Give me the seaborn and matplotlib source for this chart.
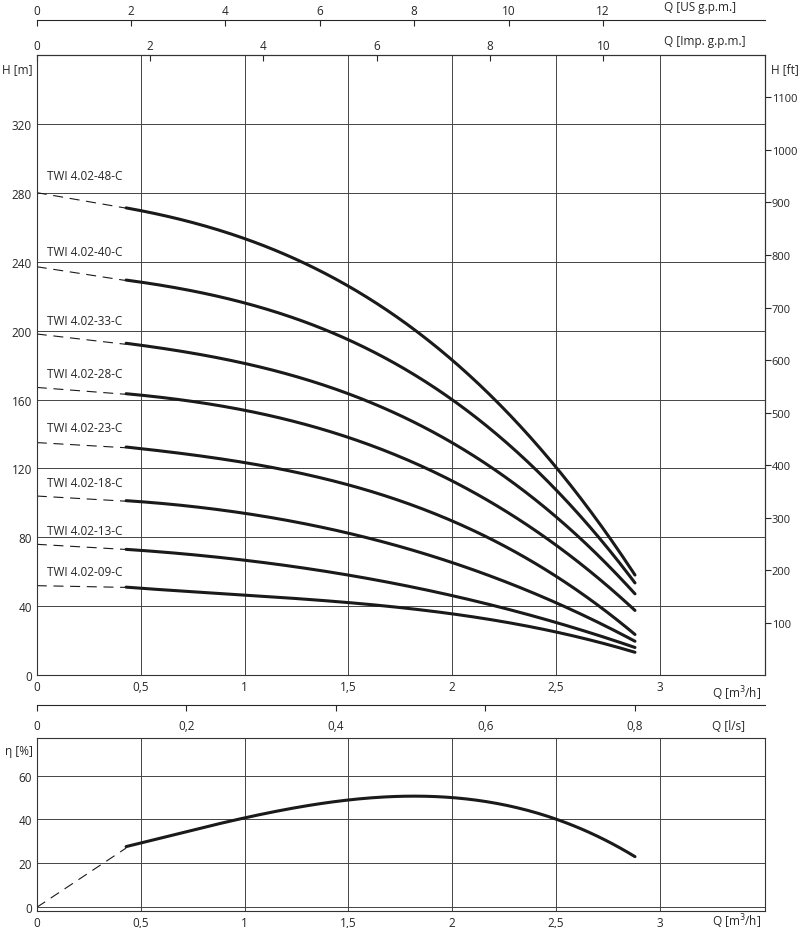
import numpy as np
import matplotlib
matplotlib.use("Agg")
import matplotlib.pyplot as plt
from matplotlib.ticker import FuncFormatter
import seaborn as sns

sns.set_style("white")
plt.rcParams['font.family'] = ['Open Sans', 'DejaVu Sans']
plt.rcParams['font.size'] = 8.5

# pump curves, Q in m3/h, H in m
q = [0.43, 1.0, 1.5, 2.0, 2.5, 2.88]
models = ["TWI 4.02-48-C", "TWI 4.02-40-C", "TWI 4.02-33-C", "TWI 4.02-28-C",
          "TWI 4.02-23-C", "TWI 4.02-18-C", "TWI 4.02-13-C", "TWI 4.02-09-C"]
heads = [
    [271, 254, 225, 183, 121, 58],
    [229, 217, 194, 159, 109, 53],
    [192, 183, 162, 133, 95, 46],
    [163, 155, 137, 112, 77, 37],
    [132, 125, 109, 89, 59, 23],
    [101, 95, 82, 64, 44, 19],
    [73, 67, 58, 46, 31, 16],
    [51, 47, 42, 35, 26, 13],
]
h_zero = [280, 237, 198, 167, 135, 104, 76, 52]
label_h = [290, 246, 206, 175, 144, 112, 84, 60]

q_eff = [0.43, 0.7, 1.0, 1.5, 1.85, 2.0, 2.3, 2.5, 2.7, 2.88]
eff = [27, 35, 41, 48, 50, 50, 47, 40, 32, 23]

comma = FuncFormatter(lambda v, p: ("%g" % round(v, 2)).replace(".", ","))

fig = plt.figure(figsize=(8, 9.29), dpi=100)
ax = fig.add_axes([0.046, 0.272, 0.91, 0.668])
ax2 = fig.add_axes([0.046, 0.018, 0.91, 0.187])

def smooth(x, y):
    xs = np.linspace(x[0], x[-1], 200)
    c = np.polyfit(x, y, 3)
    return xs, np.polyval(c, xs)

for name, h, h0, lh in zip(models, heads, h_zero, label_h):
    xs, ys = smooth(q, h)
    sns.lineplot(x=xs, y=ys, ax=ax, color="#1a1a1a", lw=2.2)
    ax.plot([0, q[0]], [h0, h[0]], color="#1a1a1a", lw=0.8, dashes=(9, 6))
    ax.text(0.05, lh, name, fontsize=8.5, va="center")

ax.set_xlim(0, 3.505)
ax.set_ylim(0, 360)
ax.set_xticks([0, 0.5, 1, 1.5, 2, 2.5, 3])
ax.set_yticks(range(0, 321, 40))
ax.xaxis.set_major_formatter(comma)
ax.grid(True, color="#444444", lw=0.7)
ax.tick_params(length=0, labelsize=8.5)
for s in ax.spines.values():
    s.set_color("#333333")
ax.text(-0.02, 350, "H [m]", ha="right", fontsize=8.5)
ax.text(3.25, -10, "Q [m$^3$/h]", ha="left", va="center", fontsize=8.5)

# right ft axis
ft = ax.secondary_yaxis("right", functions=(lambda m: m / 0.3048, lambda f: f * 0.3048))
ft.set_yticks(range(100, 1101, 100))
ft.tick_params(length=4, direction="out", labelsize=8, pad=1)
ax.text(3.535, 350, "H [ft]", ha="left", fontsize=8.5)

# top flow axes
imp = ax.secondary_xaxis("top", functions=(lambda x: x * 3.666, lambda g: g / 3.666))
imp.set_xticks(range(0, 11, 2))
imp.tick_params(length=4, direction="in", labelsize=8.5, pad=2)
us = ax.secondary_xaxis(1.056, functions=(lambda x: x * 4.403, lambda g: g / 4.403))
us.set_xticks(range(0, 13, 2))
us.tick_params(length=4, direction="in", labelsize=8.5, pad=2)
ax.text(3.02, 368, "Q [Imp. g.p.m.]", fontsize=8.5, va="center")
ax.text(3.02, 388, "Q [US g.p.m.]", fontsize=8.5, va="center")

# efficiency
xs, ys = smooth(q_eff, eff)
sns.lineplot(x=xs, y=ys, ax=ax2, color="#1a1a1a", lw=2.2)
ax2.plot([0, q_eff[0]], [0, eff[0]], color="#1a1a1a", lw=0.8, dashes=(9, 6))
ax2.set_xlim(0, 3.505)
ax2.set_ylim(-1.8, 77.3)
ax2.set_xticks([0, 0.5, 1, 1.5, 2, 2.5, 3])
ax2.set_yticks([0, 20, 40, 60])
ax2.xaxis.set_major_formatter(comma)
ax2.grid(True, color="#444444", lw=0.7)
ax2.tick_params(length=0, labelsize=8.5)
for s in ax2.spines.values():
    s.set_color("#333333")
ax2.text(-0.02, 70, "η [%]", ha="right", fontsize=8.5)
ax2.text(3.25, -6, "Q [m$^3$/h]", ha="left", va="center", fontsize=8.5)

ls = ax2.secondary_xaxis(1.19, functions=(lambda x: x / 3.6, lambda l: l * 3.6))
ls.set_xticks([0, 0.2, 0.4, 0.6, 0.8])
ls.xaxis.set_major_formatter(comma)
ls.tick_params(length=4, direction="in", labelsize=8.5, pad=-20)
ax2.text(3.25, 83, "Q [l/s]", fontsize=8.5, va="center")

fig.savefig("out.png", dpi=100)
